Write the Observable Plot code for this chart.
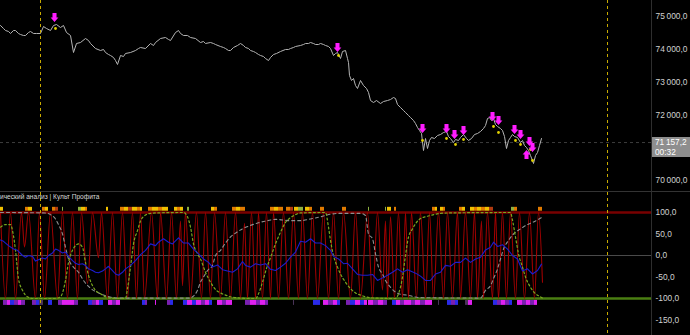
<!DOCTYPE html>
<html><head><meta charset="utf-8">
<script src="https://cdn.jsdelivr.net/npm/d3@7"></script>
<script src="https://cdn.jsdelivr.net/npm/@observablehq/plot@0.6"></script>
<style>
html,body{margin:0;padding:0;background:#000;}
#wrap{position:relative;width:690px;height:335px;overflow:hidden;background:#000;font-family:"Liberation Sans",Arial,sans-serif;}
#top{height:191px;}
#bot{border-top:1px solid #333;height:143px;}
#vsep{position:absolute;left:651px;top:0;width:1px;height:335px;background:#2e2e2e;}
#title{position:absolute;left:0;top:193px;font-size:6.6px;color:#d8d8d8;white-space:nowrap;}
#plabel{position:absolute;left:652px;width:38px;height:20px;background:#8e8e8e;color:#fff;font-size:8.3px;line-height:10px;box-sizing:border-box;padding-left:3px;white-space:nowrap;overflow:hidden;}
svg{display:block;}
</style></head><body>
<div id="wrap"><div id="top"></div><div id="bot"></div><div id="vsep"></div><div id="title"></div><div id="plabel"></div></div>
<script>
// ---------- DATA ----------
const indicatorTitle = "ический анализ | Культ Профита";
const currentPrice = 71157.2;
const currentTime = "00:32";
const priceTicks = [70000, 72000, 73000, 74000, 75000];
const oscTicks = [100, 50, 0, -50, -100, -150];
const sessionLines = [40, 607];
const oscLevels = [100, 0, -100];

const priceT = [0,3,5,8,10,13,15,18,20,23,25,28,30,33,36,40,43,46,50,53,56,60,63,66,70,73,76,80,85,88,90,95,100,103,105,108,110,113,115,117,120,123,125,130,135,138,140,145,150,153,155,160,165,168,170,175,178,180,183,187,190,195,200,203,205,210,213,215,220,223,225,228,230,233,237,240,243,245,248,250,253,255,258,260,263,265,268,270,273,276,280,285,288,290,293,295,300,303,305,308,310,313,315,318,320,323,325,328,330,333,335,337,340,342,345,347,348,349,351,353,355,357,360,363,366,368,370,373,376,380,383,387,390,393,395,397,400,403,405,408,410,413,415,417,419,421,423,425,427,429,431,434,437,440,443,446,448,450,453,455,458,460,463,466,468,471,474,477,480,483,485,487,489,491,493,495,497,500,502,504,506,508,510,512,514,517,520,522,524,526,528,530,532,533,535,537,539,541];
const priceV = [74726,74634,74573,74543,74482,74573,74573,74482,74451,74421,74421,74512,74543,74482,74482,74482,74695,74634,74573,74726,74756,74665,74726,74512,74421,73902,74177,74207,74329,74268,74177,74024,73963,73994,73902,73841,73811,73750,73658,73537,73811,73780,73872,73902,73963,74024,74055,74024,74177,74116,74207,74329,74360,74299,74268,74512,74573,74482,74421,74421,74360,74329,74207,74238,74177,74207,74177,74146,74085,74055,74024,73963,73963,74055,74116,74177,74116,74055,74024,73963,73933,73902,73841,73811,73780,73720,73658,73750,73841,73872,73933,73994,73994,74024,74055,74085,74116,74146,74177,74177,74207,74177,74146,74146,74177,74146,74116,74085,74024,73811,73872,73902,73720,73933,73963,73720,73597,73201,73049,73110,72896,72805,73049,72896,72805,72683,72439,72378,72439,72347,72408,72439,72469,72530,72500,72317,72225,72134,72073,71981,71920,71829,71737,71616,71524,71433,70914,71280,70975,71219,71311,71280,71372,71402,71463,71494,71341,71280,71158,71250,71219,71311,71402,71280,71219,71280,71402,71433,71494,71585,71676,71890,71920,71829,71890,71707,71646,71585,71524,71341,70975,71219,71311,71402,71341,71311,71158,71219,71067,71006,70914,70762,70609,70518,70762,70853,71067,71280];

const sellT = [54,337,422,446,454,463,492,498,514,520,529,532];
const sellV = [74970,74055,71585,71585,71402,71524,71951,71829,71555,71402,71189,71006];
const buyT = [526];
const buyV = [70792];
const markT = [55,338,422,446,455,463,493,498,515,520,530,532];
const markV = [74634,73811,71219,71280,71097,71250,71646,71463,71219,71097,70945,70609];

const fastT = [0,5,10,15,21,24,28,35,39,44,50,57,62,67,72,77,81,87,92,98,101,107,112,117,122,127,132,136,140,144,151,157,160,166,171,176,180,182,185,190,196,201,205,210,214,220,225,230,235,240,244,247,251,255,258,262,266,270,273,278,283,288,293,298,302,307,312,317,323,328,333,338,343,350,355,360,367,372,377,382,385,387,390,394,398,402,405,408,411,416,420,425,429,433,438,443,447,452,457,460,465,470,474,477,481,483,487,492,495,498,502,506,510,515,519,524,529,534,538,542];
const fastV = [100,-100,100,-100,100,20,100,-100,100,-100,100,-100,100,-100,100,-100,100,-65,100,-5,100,-100,100,-100,100,-100,100,-100,100,-100,100,-100,100,-100,100,-100,80,-70,100,-100,100,-100,100,-100,100,-100,100,-100,100,-100,75,-100,100,-100,100,-100,100,-100,100,-100,100,-100,100,-100,100,-100,100,-100,100,-100,100,-100,100,-100,100,-100,100,-100,100,-80,80,-100,90,-100,100,-100,100,-100,100,-100,100,-100,100,-100,100,-100,100,-100,100,-100,100,-100,100,-100,80,-100,100,-100,100,-100,100,-100,100,-100,100,-100,100,-100,100,-62];

const trendT = [0,3,8,13,17,22,25,28,32,35,38,42,45,48,52,55,58,62,65,68,72,75,78,82,85,88,92,95,98,102,105,108,112,115,118,122,125,130,135,140,145,150,155,158,163,168,172,178,183,188,193,198,203,208,212,217,222,227,232,237,242,245,250,255,260,265,270,275,280,285,290,295,300,305,310,315,320,325,330,333,338,343,347,352,357,362,367,372,377,382,387,392,397,402,407,410,415,420,425,430,435,440,445,450,455,460,465,470,475,480,485,490,493,497,502,507,512,517,522,527,532,537,541];
const trendV = [36,33,23,15,12,0,-4,0,-2,-13,-10,-6,-8,0,6,15,12,6,8,-2,-12,-18,-21,-19,-23,-31,-35,-39,-40,-36,-31,-25,-35,-43,-46,-39,-31,-23,-12,2,12,27,23,31,39,31,27,41,29,29,15,4,-8,-16,-27,-22,-33,-36,-39,-31,-14,-23,-27,-19,-22,-19,-32,-35,-27,-18,-4,8,33,31,39,29,29,23,12,-2,-8,-19,-18,-31,-44,-46,-46,-44,-58,-52,-46,-39,-31,-39,-33,-36,-41,-48,-58,-58,-43,-39,-23,-25,-16,-16,-6,-16,-8,-4,13,19,31,21,25,15,0,-8,-36,-31,-43,-35,-20];

const slowT = [0,5,10,12,15,18,22,27,32,55,60,65,68,72,75,78,82,85,88,92,95,100,105,110,125,127,130,133,137,140,145,150,155,183,187,190,193,197,200,205,210,215,220,225,230,240,255,258,262,266,270,275,280,285,290,295,300,325,328,330,333,337,340,345,350,355,360,365,375,395,398,402,405,408,412,415,420,425,430,440,450,510,512,515,518,522,525,530,535,540,542];
const slowV = [66,72,72,58,12,-54,-81,-96,-100,-100,-96,-58,-16,12,23,27,19,-16,-46,-70,-81,-89,-96,-99,-100,-77,-27,27,58,80,94,98,99,100,90,66,27,4,-8,-39,-62,-79,-87,-92,-96,-99,-100,-89,-62,-30,-5,27,54,77,88,95,99,100,66,35,0,-27,-43,-62,-77,-87,-92,-96,-99,-100,-89,-50,0,43,62,74,86,90,93,98,99,100,82,43,4,-27,-50,-74,-89,-96,-99];

const signalT = [0,45,50,55,58,62,65,68,73,78,83,88,93,100,107,117,190,192,197,200,203,207,212,215,220,225,230,235,242,250,258,267,275,290,300,310,320,330,340,360,365,368,372,375,378,382,385,390,395,402,407,412,420,480,485,490,493,497,500,503,508,513,520,527,533,541];
const signalV = [100,99,95,85,72,50,19,-8,-27,-39,-58,-72,-81,-89,-95,-99,-99,-96,-81,-62,-50,-35,-23,0,12,29,43,52,62,70,76,81,84,81,81,85,90,96,98,98,93,50,39,4,-27,-43,-58,-74,-85,-91,-92,-95,-98,-99,-81,-70,-54,-31,-8,15,35,50,62,72,78,88];

// top strip: [start, end, tone]
const topStrip = [[0,3,"y"],[25,28,"o"],[28,32,"y"],[42,45,"o"],[45,48,"y"],[52,55,"o"],[55,58,"r"],[62,63,"g"],[78,81,"g"],[81,85,"y"],[85,87,"o"],[106,108,"y"],[120,124,"o"],[124,128,"y"],[128,132,"r"],[132,137,"y"],[137,140,"o"],[140,142,"y"],[148,152,"o"],[152,158,"y"],[158,162,"o"],[162,168,"y"],[174,177,"y"],[177,180,"o"],[180,183,"y"],[187,189,"g"],[211,214,"y"],[214,217,"o"],[232,236,"o"],[236,240,"y"],[240,245,"o"],[270,274,"o"],[274,278,"y"],[278,283,"o"],[286,290,"o"],[290,293,"r"],[294,298,"y"],[298,303,"g"],[305,309,"y"],[309,312,"o"],[320,324,"o"],[342,346,"o"],[368,369,"g"],[385,386,"g"],[387,391,"y"],[394,396,"o"],[432,435,"o"],[435,437,"y"],[440,443,"y"],[443,445,"o"],[459,462,"o"],[462,465,"y"],[470,474,"y"],[474,477,"o"],[477,481,"y"],[481,485,"o"],[485,489,"y"],[489,493,"r"],[511,514,"g"],[514,517,"o"],[538,542,"o"]];
const bottomStrip = [[3,7,"p"],[7,10,"m"],[10,14,"b"],[14,18,"p"],[18,21,"m"],[21,25,"p"],[32,36,"p"],[36,39,"b"],[39,43,"d"],[48,52,"b"],[58,62,"p"],[62,74,"m"],[74,78,"p"],[88,92,"b"],[92,96,"p"],[96,99,"m"],[99,103,"b"],[108,112,"m"],[112,116,"p"],[116,120,"m"],[142,145,"b"],[145,147,"p"],[155,156,"m"],[167,170,"p"],[170,173,"b"],[183,187,"b"],[187,192,"m"],[192,196,"b"],[196,201,"m"],[201,205,"p"],[205,209,"m"],[209,212,"b"],[217,222,"m"],[222,226,"p"],[226,232,"m"],[245,250,"p"],[250,256,"m"],[256,260,"p"],[260,265,"m"],[265,268,"p"],[293,294,"d"],[313,320,"b"],[323,328,"m"],[328,333,"p"],[333,337,"m"],[337,340,"b"],[346,350,"p"],[350,355,"b"],[355,360,"m"],[360,364,"b"],[364,367,"m"],[368,373,"m"],[373,378,"p"],[378,383,"m"],[383,387,"p"],[392,396,"b"],[396,400,"m"],[400,404,"p"],[404,411,"m"],[411,415,"p"],[415,420,"m"],[420,425,"p"],[425,432,"m"],[438,439,"d"],[447,451,"b"],[451,455,"p"],[455,458,"b"],[465,468,"d"],[468,472,"m"],[493,497,"b"],[497,501,"p"],[501,505,"m"],[505,509,"p"],[509,512,"b"],[517,522,"m"],[522,526,"p"],[526,530,"m"],[530,534,"p"],[534,537,"m"]];

// ---------- BUILD ----------
const zip = (a, b) => a.map((t, i) => ({t, v: b[i]}));
const price = zip(priceT, priceV), sells = zip(sellT, sellV), buys = zip(buyT, buyV), marks = zip(markT, markV);
const fast = zip(fastT, fastV), trend = zip(trendT, trendV), slow = zip(slowT, slowV), signal = zip(signalT, signalV);
const strip = a => a.map(([a1, a2, c]) => ({a1, a2, c}));
const toneColor = {y:"#f0c000", o:"#e07a00", r:"#b03a10", g:"#8cb040", p:"#7a20b0", m:"#e020f0", b:"#2a2ae8", d:"#4a3458"};

const fmt = d3.formatLocale({decimal:",", thousands:"\u202F", grouping:[3], currency:["",""], minus:"-"}).format(",.1f");

const arrowDown = {draw(ctx, size){const r=Math.sqrt(size/Math.PI), w=r*0.44, h=r*0.85;
  ctx.moveTo(-w,-r);ctx.lineTo(w,-r);ctx.lineTo(w,0);ctx.lineTo(h,0);ctx.lineTo(0,r);ctx.lineTo(-h,0);ctx.lineTo(-w,0);ctx.closePath();}};
const arrowUp = {draw(ctx, size){const r=Math.sqrt(size/Math.PI), w=r*0.44, h=r*0.85;
  ctx.moveTo(-w,r);ctx.lineTo(w,r);ctx.lineTo(w,0);ctx.lineTo(h,0);ctx.lineTo(0,-r);ctx.lineTo(-h,0);ctx.lineTo(-w,0);ctx.closePath();}};

const xScale = {domain:[0, 651], axis:null};
const common = {width:690, marginLeft:0, marginRight:39, marginTop:0, marginBottom:0,
  style:{background:"#000", color:"#d0d0d0", fontSize:"8.4px", fontFamily:"'Liberation Sans', Arial, sans-serif", overflow:"visible"}};

const topPlot = Plot.plot({...common, height:191, x:xScale, y:{domain:[69664.6, 75487.8], axis:null},
  marks:[
    Plot.ruleY([currentPrice], {stroke:"#3c3c3c", strokeDasharray:"3,3"}),
    Plot.line(price, {x:"t", y:"v", stroke:"#b4b4b4", strokeWidth:1}),
    Plot.dot(marks, {x:"t", y:"v", r:1.4, fill:"#e0d000"}),
    Plot.dot(sells, {x:"t", y:"v", r:4.6, symbol:arrowDown, fill:"#ff1cff", stroke:"none"}),
    Plot.dot(buys, {x:"t", y:"v", r:4.6, symbol:arrowUp, fill:"#ff1cff", stroke:"none"}),
    Plot.ruleX(sessionLines, {stroke:"#c8aa00", strokeDasharray:"3,3"}),
    Plot.axisY({anchor:"right", ticks:priceTicks, tickSize:0, tickPadding:4, tickFormat:fmt, textAnchor:"start", label:null})
  ]});
document.getElementById("top").append(topPlot);

const botPlot = Plot.plot({...common, height:143, x:xScale, y:{domain:[-186, 146.5], axis:null},
  marks:[
    Plot.ruleY(oscLevels, {stroke:d => d===0 ? "#4a4a4a" : d>0 ? "#780000" : "#4a7e12",
      strokeWidth:d => d===0 ? 1 : 2.6, strokeDasharray:d => d===0 ? "3,3" : null}),
    Plot.rect(strip(topStrip), {x1:"a1", x2:"a2", y1:103, y2:112, fill:d => toneColor[d.c]}),
    Plot.rect(strip(bottomStrip), {x1:"a1", x2:"a2", y1:-104.5, y2:-116, fill:d => toneColor[d.c]}),
    Plot.line(fast, {x:"t", y:"v", stroke:"#a00000", strokeWidth:1.1, curve:"monotone-x"}),
    Plot.line(signal, {x:"t", y:"v", stroke:"#8e8e8e", strokeWidth:1.1, strokeDasharray:"3,3", curve:"monotone-x"}),
    Plot.line(slow, {x:"t", y:"v", stroke:"#79a81e", strokeWidth:1.2, strokeDasharray:"2,2.5", curve:"monotone-x"}),
    Plot.line(trend, {x:"t", y:"v", stroke:"#1c1cd0", strokeWidth:1.1}),
    Plot.ruleX(sessionLines, {stroke:"#c8aa00", strokeDasharray:"3,3"}),
    Plot.axisY({anchor:"right", ticks:oscTicks, tickSize:0, tickPadding:4, tickFormat:fmt, textAnchor:"start", label:null})
  ]});
document.getElementById("bot").append(botPlot);

document.getElementById("title").textContent = indicatorTitle;
const pl = document.getElementById("plabel");
pl.style.top = (topPlot.scale("y").apply(currentPrice) - 5) + "px";
pl.innerHTML = fmt(currentPrice) + "<br>" + currentTime;
</script></body></html>
